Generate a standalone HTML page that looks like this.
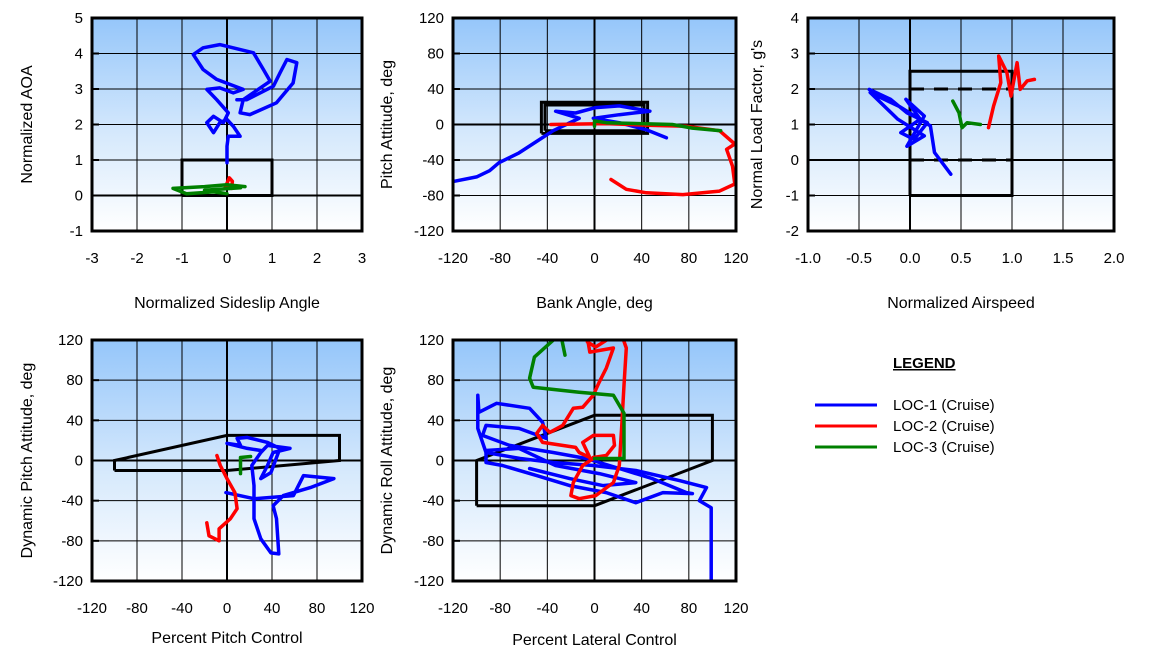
<!DOCTYPE html>
<html><head><meta charset="utf-8"><style>
html,body{margin:0;padding:0;background:#fff;}
svg{display:block;font-family:"Liberation Sans",Arial,sans-serif;}
</style></head><body>
<svg id="chart" width="1172" height="655" viewBox="0 0 1172 655" xmlns="http://www.w3.org/2000/svg">
<defs>
<linearGradient id="bg" x1="0" y1="0" x2="0" y2="1">
<stop offset="0" stop-color="#95c6fa"/><stop offset="0.55" stop-color="#d6e9fc"/><stop offset="1" stop-color="#ffffff"/>
</linearGradient>
</defs>
<g>
<text x="893" y="368" font-size="15" font-weight="bold" text-decoration="underline">LEGEND</text>
<line x1="815" y1="405" x2="877" y2="405" stroke="#0000ff" stroke-width="3"/>
<line x1="815" y1="426" x2="877" y2="426" stroke="#ff0000" stroke-width="3"/>
<line x1="815" y1="447" x2="877" y2="447" stroke="#008000" stroke-width="3"/>
<text x="893" y="410" font-size="15">LOC-1 (Cruise)</text>
<text x="893" y="431" font-size="15">LOC-2 (Cruise)</text>
<text x="893" y="452" font-size="15">LOC-3 (Cruise)</text>
</g>
</svg>
<script>
// ---------- Panel 1: Normalized AOA vs Sideslip ----------
const p1XTicks = [-3,-2,-1,0,1,2,3];
const p1YTicks = [-1,0,1,2,3,4,5];
const p1Envelope = [[-1,0],[-1,1],[1,1],[1,0],[-1,0]];
const p1Blue = [[0,0.92],[0,1.39],[0.03,1.67],[0.29,1.67],[0.14,1.95],[0,2.14],[-0.16,2.05],[-0.3,1.77],[-0.45,2.05],[-0.3,2.23],[-0.08,2.05],[0.03,2.33],[-0.23,2.7],[-0.45,2.99],[-0.16,3.03],[0.14,2.89],[0.36,2.99],[-0.23,3.27],[-0.53,3.55],[-0.75,3.97],[-0.53,4.16],[-0.16,4.25],[0.59,4.02],[0.81,3.55],[0.96,3.22],[0.36,2.7],[0.29,2.33],[0.51,2.28],[1.1,2.61],[1.47,3.17],[1.55,3.74],[1.33,3.83],[1.18,3.46],[1.03,3.08],[0.44,2.7],[0.22,2.7]];
const p1Red = [[-0.05,0.2],[0.05,0.5],[0.12,0.4],[0.1,0.2],[-0.02,0.3]];
const p1Green = [[0.4,0.25],[0,0.3],[-0.5,0.25],[-1.2,0.2],[-0.9,0.05],[-0.3,0.1],[0,0.05],[-0.5,0.15],[0.3,0.22]];

// ---------- Panel 2: Pitch Attitude vs Bank Angle ----------
const p2XTicks = [-120,-80,-40,0,40,80,120];
const p2YTicks = [-120,-80,-40,0,40,80,120];
const p2Envelope = [[-45,-10],[-45,25],[45,25],[45,-10],[-45,-10]];
const p2Envelope2 = [[-42,-7],[-42,22],[42,22],[42,-7],[-42,-7]];
const p2Blue = [[-119,-64],[-100,-59],[-89,-52],[-81,-43],[-64,-32],[-49,-19],[-35,-7],[-24,0],[-13,7],[-33,15],[-16,13],[1,19],[21,21],[47,15],[21,11],[-1,7],[21,2],[44,-6],[61,-15]];
const p2Red = [[-37,0],[10,1],[49,-1],[78,-2],[106,-7],[119,-22],[112,-28],[117,-47],[119,-67],[106,-75],[75,-79],[44,-77],[27,-73],[14,-62]];
const p2Green = [[0,-2],[0,4],[10,2],[66,0],[83,-4],[107,-7]];

// ---------- Panel 3: Load factor vs Airspeed ----------
const p3XTicks = [-1.0,-0.5,0.0,0.5,1.0,1.5,2.0];
const p3YTicks = [-2,-1,0,1,2,3,4];
const p3Envelope = [[0,-1],[0,2.5],[1,2.5],[1,-1],[0,-1]];
const p3DashTop = [[0,2],[1,2]];
const p3DashBottom = [[0,0],[1,0]];
const p3Blue = [[-0.4,1.99],[-0.19,1.71],[-0.03,1.33],[0.17,1.05],[0.04,0.58],[-0.09,0.77],[0.1,1.15],[-0.04,1.71],[0.14,1.24],[-0.03,0.39],[0.14,0.68],[-0.12,1.15],[-0.39,1.9],[-0.1,1.5],[0.2,0.96],[0.24,0.21],[0.4,-0.4]];
const p3Red = [[0.77,0.91],[0.82,1.52],[0.89,2.18],[0.87,2.93],[0.95,2.46],[0.99,1.8],[1.05,2.74],[1.08,1.99],[1.15,2.23],[1.22,2.27]];
const p3Green = [[0.42,1.66],[0.48,1.33],[0.51,0.91],[0.56,1.05],[0.69,1.0]];

// ---------- Panel 4: Dynamic Pitch vs Pitch Control ----------
const p4XTicks = [-120,-80,-40,0,40,80,120];
const p4YTicks = [-120,-80,-40,0,40,80,120];
const p4Envelope = [[-100,-10],[-100,0],[0,25],[100,25],[100,0],[0,-10],[-100,-10]];
const p4Blue = [[-1,-32],[24,-38],[59,-35],[68,-15],[95,-18],[74,-27],[50,-35],[41,-45],[44,-58],[46,-93],[39,-92],[30,-78],[24,-58],[24,-25],[22,-5],[30,8],[36,15],[56,12],[41,8],[36,-5],[30,-18],[39,-12],[47,12],[36,18],[18,23],[9,22],[12,15],[0,17],[18,12],[30,10]];
const p4Red = [[-9,5],[-6,-5],[0,-18],[7,-32],[9,-48],[3,-58],[-7,-68],[-7,-80],[-16,-75],[-18,-62]];
const p4Green = [[12,-13],[12,3],[21,4]];

// ---------- Panel 5: Dynamic Roll vs Lateral Control ----------
const p5XTicks = [-120,-80,-40,0,40,80,120];
const p5YTicks = [-120,-80,-40,0,40,80,120];
const p5Envelope = [[-100,-45],[-100,0],[0,45],[100,45],[100,0],[0,-45],[-100,-45]];
const p5Blue = [[99,-120],[99,-47],[89,-40],[95,-27],[72,-20],[35,-10],[-1,-5],[-35,-2],[-63,2],[-92,8],[-99,32],[-99,65],[-98,48],[-83,57],[-55,52],[-44,38],[-41,22],[-64,32],[-92,35],[-95,25],[-72,15],[-35,8],[-7,2],[21,-8],[49,-18],[78,-32],[83,-33],[58,-32],[35,-42],[10,-32],[-21,-25],[-49,-15],[-78,-5],[-92,-2],[-92,10],[-64,12],[-33,-5],[4,-13],[35,-22],[7,-25],[-21,-18],[-55,-8]];
const p5Red = [[-1,2],[-10,-5],[-18,-22],[-20,-35],[-13,-38],[1,-35],[16,-22],[21,-5],[23,32],[25,75],[27,112],[24,122],[13,122],[1,113],[-6,118],[-6,122],[-4,108],[16,112],[10,92],[4,78],[-1,65],[-10,53],[-18,52],[-27,35],[-38,28],[-44,35],[-49,27],[-44,18],[-16,13],[-13,8],[-4,3],[-10,18],[-1,25],[16,25],[17,15],[10,5],[-1,3]];
const p5Green = [[-25,105],[-28,122],[-33,122],[-51,103],[-55,82],[-52,73],[-13,68],[16,65],[25,47],[25,2],[0,2]];

const NS = 'http://www.w3.org/2000/svg';
const svg = document.getElementById('chart');
function mk(tag, attrs, parent){
  const e = document.createElementNS(NS, tag);
  for (const k in attrs) e.setAttribute(k, attrs[k]);
  (parent||svg).appendChild(e);
  return e;
}

function panel(cfg){
  const g = mk('g', {});
  
  
  const L=cfg.L,R=cfg.R,T=cfg.T,B=cfg.B;
  const xs = v => L + (v - cfg.xTicks[0])/(cfg.xTicks[cfg.xTicks.length-1]-cfg.xTicks[0])*(R-L);
  const ys = v => B - (v - cfg.yTicks[0])/(cfg.yTicks[cfg.yTicks.length-1]-cfg.yTicks[0])*(B-T);
  const bg = mk('rect', {x:L,y:T,width:R-L,height:B-T,fill:'url(#bg)'}, g);
  
  
  const clipId = 'clip-' + cfg.name;
  const cp = mk('clipPath', {id:clipId}, g);
  mk('rect', {x:L,y:T,width:R-L,height:B-T}, cp);
  cfg.xTicks.forEach(v => {
    const ln = mk('line', {x1:xs(v),x2:xs(v),y1:T,y2:B,stroke:'#000','stroke-width':(v===0?2:1)}, g);
    
    
    const t = mk('text', {x:xs(v),y:cfg.xLabY,'text-anchor':'middle','font-size':15}, g);
    
    
    t.textContent = cfg.xFmt ? cfg.xFmt(v) : String(v);
  });
  cfg.yTicks.forEach(v => {
    const ln = mk('line', {x1:L,x2:R,y1:ys(v),y2:ys(v),stroke:'#000','stroke-width':(v===0?2:1)}, g);
    
    
    const tk = mk('line', {x1:L,x2:L+7,y1:ys(v),y2:ys(v),stroke:'#000','stroke-width':2}, g);
    
    
    const t = mk('text', {x:L-9,y:ys(v)+5,'text-anchor':'end','font-size':15}, g);
    
    
    t.textContent = String(v);
  });
  const pts = arr => arr.map(p => xs(p[0]).toFixed(1)+','+ys(p[1]).toFixed(1)).join(' ');
  const inner = mk('g', {'clip-path':'url(#'+clipId+')'}, g);
  cfg.env.forEach(e => {
    const pl = mk('polyline', {points:pts(e.d),fill:'none',stroke:'#000','stroke-width':3,'stroke-dasharray':e.dash||'none','stroke-linejoin':'miter'}, inner);
    
    
  });
  [[cfg.blue,'#0000ff','loc1-trace'],[cfg.red,'#ff0000','loc2-trace'],[cfg.green,'#008000','loc3-trace']].forEach(s => {
    const pl = mk('polyline', {points:pts(s[0]),fill:'none',stroke:s[1],'stroke-width':3.5,'stroke-linejoin':'round','stroke-linecap':'round'}, inner);
    
    
  });
  const fr = mk('rect', {x:L,y:T,width:R-L,height:B-T,fill:'none',stroke:'#000','stroke-width':3}, g);
  
  
  const xt = mk('text', {x:(L+R)/2,y:cfg.xTitleY,'text-anchor':'middle','font-size':16}, g);
  
  
  xt.textContent = cfg.xTitle;
  const yt = mk('text', {x:0,y:0,'text-anchor':'middle','font-size':16,transform:'translate('+cfg.yTitleX+','+(T+B)/2+') rotate(-90)'}, g);
  
  
  yt.textContent = cfg.yTitle;
}

panel({name:'aoa-vs-sideslip-panel',L:92,R:362,T:18,B:231,xTicks:p1XTicks,yTicks:p1YTicks,xLabY:263,xTitleY:308,yTitleX:32,
  xTitle:'Normalized Sideslip Angle',yTitle:'Normalized AOA',env:[{d:p1Envelope}],blue:p1Blue,red:p1Red,green:p1Green});
panel({name:'pitch-vs-bank-panel',L:453,R:736,T:18,B:231,xTicks:p2XTicks,yTicks:p2YTicks,xLabY:263,xTitleY:308,yTitleX:392,
  xTitle:'Bank Angle, deg',yTitle:'Pitch Attitude, deg',env:[{d:p2Envelope},{d:p2Envelope2}],blue:p2Blue,red:p2Red,green:p2Green});
panel({name:'load-factor-vs-airspeed-panel',L:808,R:1114,T:18,B:231,xTicks:p3XTicks,yTicks:p3YTicks,xLabY:263,xTitleY:308,yTitleX:762,
  xFmt:v=>v.toFixed(1),xTitle:'Normalized Airspeed',yTitle:"Normal Load Factor, g's",
  env:[{d:p3Envelope},{d:p3DashTop,dash:'14 10'},{d:p3DashBottom,dash:'14 10'}],blue:p3Blue,red:p3Red,green:p3Green});
panel({name:'dynamic-pitch-panel',L:92,R:362,T:340,B:581,xTicks:p4XTicks,yTicks:p4YTicks,xLabY:613,xTitleY:643,yTitleX:32,
  xTitle:'Percent Pitch Control',yTitle:'Dynamic Pitch Attitude, deg',env:[{d:p4Envelope}],blue:p4Blue,red:p4Red,green:p4Green});
panel({name:'dynamic-roll-panel',L:453,R:736,T:340,B:581,xTicks:p5XTicks,yTicks:p5YTicks,xLabY:613,xTitleY:645,yTitleX:392,
  xTitle:'Percent Lateral Control',yTitle:'Dynamic Roll Attitude, deg',env:[{d:p5Envelope}],blue:p5Blue,red:p5Red,green:p5Green});
</script>
</body></html>
